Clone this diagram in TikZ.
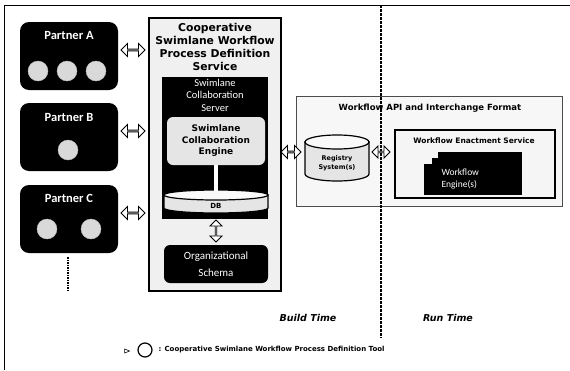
\documentclass[tikz,border=0pt]{standalone}
\usepackage{fontspec}
\setmainfont{Carlito}
\newfontfamily\dv{DejaVu Sans}
\usetikzlibrary{shapes.geometric,shapes.arrows}
\tikzset{
  partner/.style={fill=black, rounded corners=9pt, minimum width=98pt, minimum height=68pt, inner sep=0pt},
  ptitle/.style={text=white, font=\fontsize{12.5}{14}\selectfont\bfseries},
  token/.style={circle, fill=gray!30, draw=gray!50, minimum size=20pt, inner sep=0pt},
  darrow/.style={double arrow, draw=black, fill=white, line width=0.9pt, double arrow head extend=3pt, minimum height=24pt, minimum width=13pt, inner sep=0pt},
  heavy/.style={font=\dv\bfseries\fontsize{10.8}{13}\selectfont, align=center},
  wlabel/.style={text=white, align=center},
  cylbody/.style={draw=black, line width=1.2pt, fill=gray!20},
  cyltop/.style={draw=black, line width=1.2pt, fill=gray!5},
}
\begin{document}
\begin{tikzpicture}[x=1pt,y=-1pt]
\useasboundingbox (0,0) rectangle (570,370);
% outer frame
\coordinate (ftl) at (4,5);
\coordinate (ftr) at (570,5);
\coordinate (fbl) at (4,370);
\draw[line width=1pt] (ftr) -- (ftl) -- (fbl);
% partners
\node[partner] (pa) at (69,56) {};
\node[ptitle] (pat) at (69,35) {Partner A};
\node[token] (a1) at (38,71) {};
\node[token] (a2) at (67,71) {};
\node[token] (a3) at (96,71) {};
\node[partner] (pb) at (69,137) {};
\node[ptitle] (pbt) at (69,117) {Partner B};
\node[token] (b1) at (68,150) {};
\node[partner] (pc) at (69,219) {};
\node[ptitle] (pct) at (69,198) {Partner C};
\node[token] (c1) at (47,229) {};
\node[token] (c2) at (91,229) {};
\coordinate (dt1) at (68,257);
\coordinate (dt2) at (68,292);
\draw[line width=1.2pt, dash pattern=on 1.5pt off 1pt] (dt1) -- (dt2);
% service box
\node[draw=black, line width=1.6pt, fill=gray!12, minimum width=132pt, minimum height=273pt, anchor=north west, inner sep=0pt] (svc) at (148,17) {};
\node[heavy] (svct) at (215,47) {Cooperative\\Swimlane Workflow\\Process Definition\\Service};
\node[fill=black, minimum width=106pt, minimum height=142pt, anchor=north west, inner sep=0pt] (srv) at (162,77) {};
\node[wlabel, font=\fontsize{10.5}{12.5}\selectfont] (srvt) at (215,95) {Swimlane\\Collaboration\\Server};
\node[fill=gray!20, rounded corners=6pt, minimum width=98pt, minimum height=48pt, inner sep=0pt] (eng) at (216,141) {};
\node[heavy, font=\dv\bfseries\fontsize{9}{11.5}\selectfont] (engt) at (216,141) {Swimlane\\Collaboration\\Engine};
% DB cylinder
\node[minimum width=104pt, minimum height=22pt, inner sep=0pt] (db) at (216,202) {};
\path[cylbody] (164,195) -- (164,208) arc[start angle=180, end angle=360, x radius=52pt, y radius=5pt] -- (268,195) -- cycle;
\path[cyltop] (216,195) ellipse[x radius=52pt, y radius=5pt];
\node[font=\dv\bfseries\fontsize{7}{8}\selectfont] (dbt) at (216,206) {DB};
\draw[white, line width=4pt] (eng.south) -- (db.north);
\node[fill=black, rounded corners=6pt, minimum width=104pt, minimum height=38pt, inner sep=0pt] (sch) at (216,264) {};
\node[wlabel, font=\fontsize{11}{17}\selectfont] (scht) at (216,264) {Organizational\\Schema};
\node[darrow, rotate=90, minimum height=22pt, minimum width=12pt] (va) at (216,231) {};
% partner arrows
\node[darrow] (ar1) at (133,50) {};
\node[darrow] (ar2) at (133,131) {};
\node[darrow] (ar3) at (133,213) {};
% API box
\node[draw=black!70, line width=0.8pt, fill=gray!6, minimum width=266pt, minimum height=110pt, anchor=north west, inner sep=0pt] (api) at (296,96) {};
\node[font=\dv\bfseries\fontsize{8.5}{10}\selectfont] (apit) at (430,108) {Workflow API and Interchange Format};
% registry cylinder
\node[minimum width=64pt, minimum height=46pt, inner sep=0pt] (reg) at (337,158) {};
\path[cylbody] (305,142) -- (305,174) arc[start angle=180, end angle=360, x radius=32pt, y radius=7pt] -- (369,142) -- cycle;
\path[cyltop] (337,142) ellipse[x radius=32pt, y radius=7pt];
\node[font=\dv\bfseries\fontsize{6.5}{9}\selectfont, align=center] (regt) at (337,163) {Registry\\System(s)};
\node[darrow, minimum height=20pt, minimum width=13pt] (ar4) at (291,152) {};
\node[draw=black, line width=1.5pt, fill=gray!8, minimum width=160pt, minimum height=68pt, anchor=north west, inner sep=0pt] (wes) at (394,129) {};
\node[font=\dv\bfseries\fontsize{7.5}{9}\selectfont] (west) at (474,141) {Workflow Enactment Service};
\node[fill=black, minimum width=84pt, minimum height=38pt, anchor=north east, inner sep=0pt] (e3) at (522,152) {};
\node[fill=black, minimum width=90pt, minimum height=34pt, anchor=north east, inner sep=0pt] (e2) at (522,158) {};
\node[fill=black, minimum width=98pt, minimum height=31pt, anchor=north east, inner sep=0pt] (e1) at (522,164) {};
\node[wlabel, align=left, font=\fontsize{9.5}{12}\selectfont, anchor=west] (et) at (438,179) {Workflow\\Engine(s)};
% time divider
\coordinate (dv1) at (381,5);
\coordinate (dv2) at (381,338);
\draw[line width=1.2pt, dash pattern=on 2.5pt off 1.5pt] (dv1) -- (dv2);
\node[darrow, minimum height=18pt, minimum width=12pt] (ar5) at (381,152) {};
\node[font=\dv\bfseries\itshape\fontsize{9.5}{11}\selectfont] (bt) at (308,318) {Build Time};
\node[font=\dv\bfseries\itshape\fontsize{9.5}{11}\selectfont] (rt) at (448,318) {Run Time};
% legend
\node[draw=black, line width=0.6pt, isosceles triangle, minimum size=4pt, inner sep=0pt] (lg0) at (126,351) {};
\node[circle, draw=black, line width=1.2pt, minimum size=14pt, inner sep=0pt] (lg1) at (145,350) {};
\node[font=\dv\bfseries\fontsize{7}{8}\selectfont, anchor=west] (lgt) at (155,350) {: Cooperative Swimlane Workflow Process Definition Tool};
\end{tikzpicture}
\end{document}
